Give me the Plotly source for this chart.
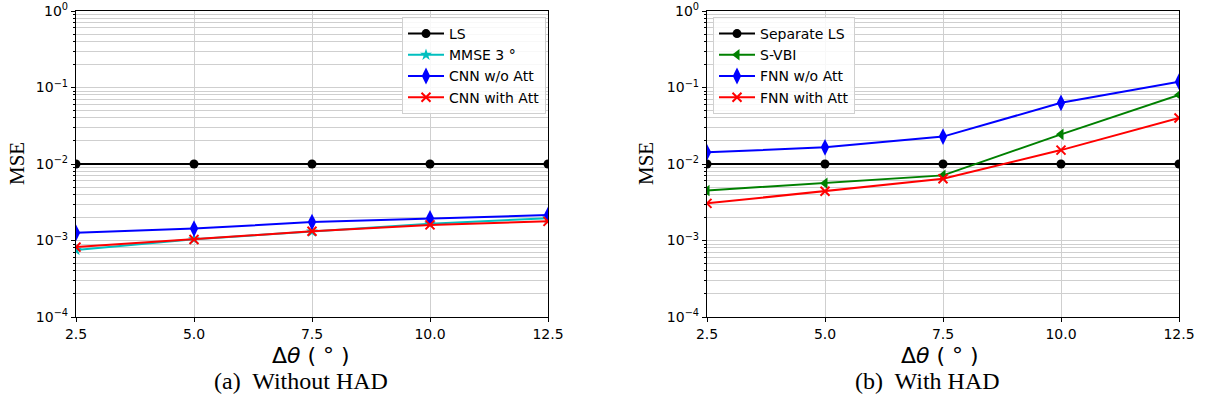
import plotly.graph_objects as go

x_vals = [2.5, 5.0, 7.5, 10.0, 12.5]
x_ticktext = ["2.5", "5.0", "7.5", "10.0", "12.5"]

# Panel (a): Without HAD
ls_a = [1e-2, 1e-2, 1e-2, 1e-2, 1e-2]
mmse_a = [7.5e-4, 1.04e-3, 1.31e-3, 1.66e-3, 1.95e-3]
cnn_wo_att = [1.26e-3, 1.43e-3, 1.74e-3, 1.95e-3, 2.15e-3]
cnn_with_att = [8.2e-4, 1.03e-3, 1.32e-3, 1.6e-3, 1.78e-3]

# Panel (b): With HAD
ls_b = [1e-2, 1e-2, 1e-2, 1e-2, 1e-2]
svbi_b = [4.5e-3, 5.6e-3, 7.1e-3, 2.44e-2, 8.0e-2]
fnn_wo_att = [1.42e-2, 1.65e-2, 2.28e-2, 6.3e-2, 0.119]
fnn_with_att = [3.06e-3, 4.4e-3, 6.4e-3, 1.52e-2, 4.0e-2]

y_major = [1e-4, 1e-3, 1e-2, 1e-1, 1e0]
y_major_text = ["10<sup>−4</sup>", "10<sup>−3</sup>", "10<sup>−2</sup>", "10<sup>−1</sup>", "10<sup>0</sup>"]
y_minor = [m * 10 ** e for e in (-4, -3, -2, -1) for m in range(2, 10)]

fig = go.Figure()

def add(x, y, name, color, symbol, size, xa, ya, legend, mlw=0):
    fig.add_trace(go.Scatter(
        x=x, y=y, name=name, mode="lines+markers",
        line=dict(color=color, width=2),
        marker=dict(symbol=symbol, size=size, color=color,
                    line=dict(width=mlw, color=color)),
        xaxis=xa, yaxis=ya, legend=legend))

add(x_vals, ls_a, "LS", "black", "circle", 9, "x", "y", "legend")
add(x_vals, mmse_a, "MMSE 3 °", "#00BFBF", "star", 9, "x", "y", "legend")
add(x_vals, cnn_wo_att, "CNN w/o Att", "#0000FF", "diamond-tall", 12, "x", "y", "legend")
add(x_vals, cnn_with_att, "CNN with Att", "#FF0000", "x-thin", 9, "x", "y", "legend", mlw=2)

add(x_vals, ls_b, "Separate LS", "black", "circle", 9, "x2", "y2", "legend2")
add(x_vals, svbi_b, "S-VBI", "#008000", "triangle-left", 10, "x2", "y2", "legend2")
add(x_vals, fnn_wo_att, "FNN w/o Att", "#0000FF", "diamond-tall", 12, "x2", "y2", "legend2")
add(x_vals, fnn_with_att, "FNN with Att", "#FF0000", "x-thin", 9, "x2", "y2", "legend2", mlw=2)

# page body margin is removed by the post script, so figure pixel == screen pixel
W, H = 1211, 409

def px(v):
    return v / W

def py(v):
    return 1 - v / H

xd1 = [px(76), px(548)]
xd2 = [px(707), px(1179)]
yd = [py(317), py(11)]

grid = "#cfcfcf"
tickfont = dict(family="DejaVu Sans", size=14, color="black")

xcommon = dict(range=[2.5, 12.5], tickvals=x_vals, ticktext=x_ticktext,
               showgrid=True, gridcolor=grid, gridwidth=1,
               showline=True, linecolor="black", linewidth=1.2, mirror=True,
               ticks="outside", ticklen=4, tickcolor="black",
               tickfont=tickfont, zeroline=False, automargin=False,
               ticklabeloverflow="allow")
ycommon = dict(type="log", range=[-4, 0], tickvals=y_major, ticktext=y_major_text,
               showgrid=True, gridcolor=grid, gridwidth=1,
               showline=True, linecolor="black", linewidth=1.2, mirror=True,
               ticks="outside", ticklen=4, tickcolor="black",
               tickfont=tickfont, zeroline=False, automargin=False,
               ticklabeloverflow="allow",
               minor=dict(tickvals=y_minor, showgrid=True, gridcolor=grid, gridwidth=1,
                          ticks="outside", ticklen=2, tickcolor="black"))

legend_style = dict(bgcolor="rgba(255,255,255,0.85)", bordercolor="#d0d0d0", borderwidth=1,
                    font=dict(family="DejaVu Sans", size=14, color="black"),
                    xanchor="left", yanchor="top", itemwidth=36, tracegroupgap=0)

xtitle_font = dict(family="DejaVu Sans", size=22, color="black")
serif_title = dict(family="Liberation Serif", size=21, color="black")
caption_font = dict(family="Liberation Serif", size=24, color="black")

def ann(text, x, y, font, angle=0):
    return dict(text=text, x=px(x), y=py(y), xref="paper", yref="paper",
                xanchor="center", yanchor="middle", showarrow=False,
                textangle=angle, font=font)

fig.update_layout(
    width=W, height=H,
    margin=dict(l=0, r=0, t=0, b=0),
    paper_bgcolor="white", plot_bgcolor="white",
    xaxis=dict(domain=xd1, anchor="y", **xcommon),
    yaxis=dict(domain=yd, anchor="x", **ycommon),
    xaxis2=dict(domain=xd2, anchor="y2", **xcommon),
    yaxis2=dict(domain=yd, anchor="x2", **ycommon),
    legend=dict(x=px(402), y=py(17), **legend_style),
    legend2=dict(x=px(713), y=py(17), **legend_style),
    showlegend=True,
    annotations=[
        ann("Δ<i>θ</i> ( ° )", 311, 355, xtitle_font),
        ann("Δ<i>θ</i> ( ° )", 940, 355, xtitle_font),
        ann("MSE", 17, 164, serif_title, -90),
        ann("MSE", 646, 164, serif_title, -90),
        ann("(a)  Without HAD", 301, 381, caption_font),
        ann("(b)  With HAD", 927, 381, caption_font),
    ],
)

fig.write_html("out.html",
               config={"displayModeBar": False},
               post_script="document.body.style.margin='0';document.body.style.overflow='hidden';")
